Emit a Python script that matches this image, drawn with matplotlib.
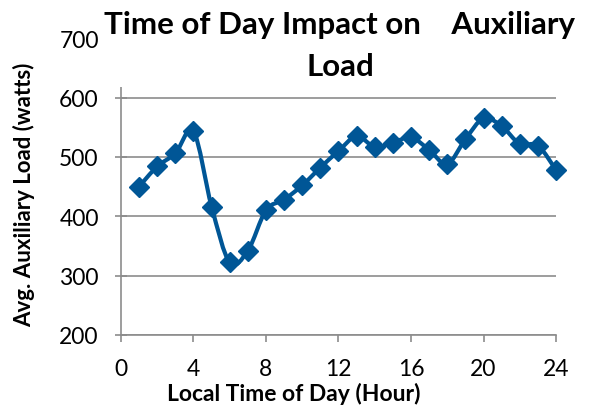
"""
Average auxiliary load by local time of day (smoothed line with diamond markers).
"""
import numpy as np
import matplotlib
matplotlib.use("Agg")
import matplotlib.pyplot as plt
from matplotlib.path import Path
from matplotlib.patches import PathPatch, Rectangle

plt.rcParams['font.family'] = ['Lato', 'DejaVu Sans']

# Data
hours = [1, 2, 3, 4, 5, 6, 7, 8, 9, 10, 11, 12,
         13, 14, 15, 16, 17, 18, 19, 20, 21, 22, 23, 24]
aux_load = [450, 484, 506, 543, 416, 322, 342, 410, 428, 452, 482, 510,
            535, 517, 524, 533, 512, 488, 530, 565, 552, 522, 519, 478]
x_ticks = [0, 4, 8, 12, 16, 20, 24]
y_ticks = [200, 300, 400, 500, 600, 700]

LINE_COLOR = '#005696'
GRID_COLOR = '#8c8c8c'


def smooth_path(x, y):
    """Excel-like smoothed curve: cubic Bezier segments through every point."""
    pts = np.column_stack([x, y]).astype(float)
    verts = [pts[0]]
    codes = [Path.MOVETO]
    n = len(pts)
    for i in range(n - 1):
        p0 = pts[i - 1] if i > 0 else pts[i]
        p1 = pts[i]
        p2 = pts[i + 1]
        p3 = pts[i + 2] if i + 2 < n else pts[i + 1]
        c1 = p1 + (p2 - p0) / 6.0
        c2 = p2 - (p3 - p1) / 6.0
        verts += [c1, c2, p2]
        codes += [Path.CURVE4] * 3
    return Path(verts, codes)


fig = plt.figure(figsize=(5.89, 4.10), dpi=100)
ax = fig.add_axes([0.2054, 0.181, 0.7386, 0.723])

ax.add_patch(PathPatch(smooth_path(hours, aux_load), facecolor='none',
                       edgecolor=LINE_COLOR, linewidth=3, zorder=3,
                       clip_on=False))
ax.plot(hours, aux_load, linestyle='none', marker='D', markersize=10.5,
        color=LINE_COLOR, zorder=4, clip_on=False)

ax.set_xlim(0, 24)
ax.set_ylim(200, 700)
ax.set_xticks(x_ticks)
ax.set_yticks(y_ticks)
ax.tick_params(axis='x', direction='out', length=5, width=1.2,
               color=GRID_COLOR, labelsize=16.5, pad=12)
ax.tick_params(axis='y', direction='inout', length=8, width=1.2,
               color=GRID_COLOR, labelsize=16.5, pad=12)
ax.grid(True, axis='y', color=GRID_COLOR, linewidth=1.2)
ax.set_axisbelow(True)
for side in ['top', 'right']:
    ax.spines[side].set_visible(False)
for side in ['left', 'bottom']:
    ax.spines[side].set_color(GRID_COLOR)
    ax.spines[side].set_linewidth(1.2)

ax.set_xlabel('Local Time of Day (Hour)', fontsize=16.5, fontweight='bold')
ax.xaxis.set_label_coords((294 - 121) / 435, -47 / 296.5)
ax.set_ylabel('Avg. Auxiliary Load (watts)', fontsize=16, fontweight='bold')
ax.yaxis.set_label_coords(-86 / 435, 0.475)

# Title box sits on top of the upper part of the plot area
fig.patches.append(Rectangle((100 / 589, 1 - 88 / 410), 1, 88 / 410,
                             transform=fig.transFigure, facecolor='white',
                             edgecolor='none', zorder=5))
fig.text(340 / 589, 1 - 25 / 410, 'Time of Day Impact on    Auxiliary',
         ha='center', va='center', fontsize=22.5, fontweight='bold', zorder=6)
fig.text(340 / 589, 1 - 67 / 410, 'Load',
         ha='center', va='center', fontsize=22.5, fontweight='bold', zorder=6)

fig.savefig('out.png', dpi=100)
